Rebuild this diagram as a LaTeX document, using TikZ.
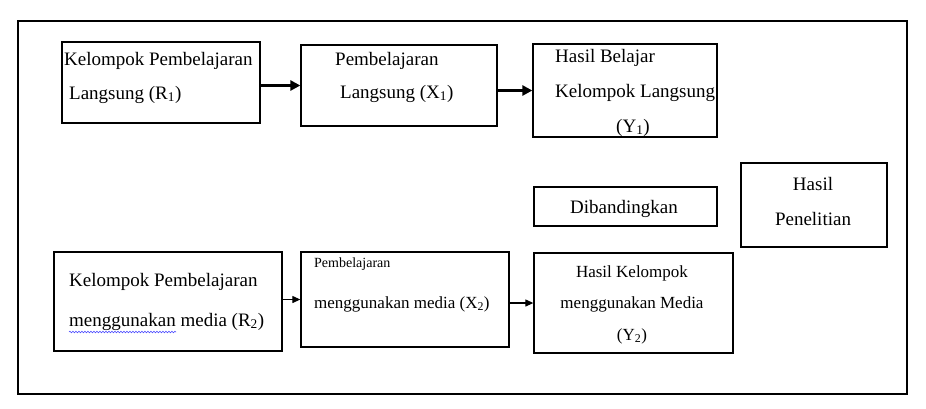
\documentclass[tikz,border=0pt]{standalone}
\usepackage{fontspec}
\setmainfont{Liberation Serif}
\usetikzlibrary{arrows.meta,decorations.pathmorphing}

\begin{document}
\begin{tikzpicture}[x=1pt, y=-1pt,
        box/.style={draw, line width=1.3pt, inner sep=0pt},
        txt/.style={inner sep=0pt, anchor=base west, font=\fontsize{19}{22}\selectfont},
        ctxt/.style={txt, anchor=base},
        bigarrow/.style={line width=3pt, -{Triangle[length=10pt,width=10pt]}},
        smallarrow/.style={line width=1.2pt, -{Triangle[length=8pt,width=7pt]}}]
        \useasboundingbox (0,0) rectangle (926,408);

        % Frame
        \draw[line width=2pt] (18,21) rectangle (907,394);

        % Top row
        \node[box, minimum width=198pt, minimum height=81pt] (r1) at (161,82.5) {};
        \node[box, minimum width=196pt, minimum height=81pt] (x1) at (399,85.5) {};
        \node[box, minimum width=184pt, minimum height=93pt] (y1) at (625,90.5) {};
        \node[txt] (r1a) at (64,65) {Kelompok Pembelajaran};
        \node[txt] (r1b) at (69,99) {Langsung (R\textsubscript{1})};
        \node[txt] (x1a) at (335,65) {Pembelajaran};
        \node[txt] (x1b) at (340,98) {Langsung (X\textsubscript{1})};
        \node[txt] (y1a) at (555,62) {Hasil Belajar};
        \node[txt] (y1b) at (555,97) {Kelompok Langsung};
        \node[ctxt] (y1c) at (633,132) {(Y\textsubscript{1})};

        % Middle boxes
        \node[box, minimum width=183pt, minimum height=39pt] (banding) at (625.5,206.5) {};
        \node[ctxt] (bandinga) at (624,213) {Dibandingkan};
        \node[box, minimum width=146pt, minimum height=84pt] (hasil) at (814,205) {};
        \node[ctxt] (hasila) at (813,190) {Hasil};
        \node[ctxt] (hasilb) at (813,225) {Penelitian};

        % Bottom row
        \node[box, minimum width=228pt, minimum height=99pt] (r2) at (168,301.5) {};
        \node[box, minimum width=208pt, minimum height=95pt] (x2) at (405,299.5) {};
        \node[box, minimum width=199pt, minimum height=100pt] (y2) at (633.5,303) {};
        \node[txt] (r2a) at (69,286) {Kelompok Pembelajaran};
        \node[txt] (r2b) at (69,326) {menggunakan media (R\textsubscript{2})};
        \draw[blue!70, line width=0.6pt, decorate, decoration={snake, amplitude=0.8pt, segment length=3pt}] (69,332) -- (176,332);
        \node[txt, font=\fontsize{14}{16}\selectfont] (x2a) at (314,267) {Pembelajaran};
        \node[txt, font=\fontsize{17}{20}\selectfont] (x2b) at (314,308) {menggunakan media (X\textsubscript{2})};
        \node[ctxt, font=\fontsize{17}{20}\selectfont] (y2a) at (632,277) {Hasil Kelompok};
        \node[ctxt, font=\fontsize{17}{20}\selectfont] (y2b) at (632,308) {menggunakan Media};
        \node[ctxt, font=\fontsize{17}{20}\selectfont] (y2c) at (632,340) {(Y\textsubscript{2})};

        % Arrows
        \draw[bigarrow] (r1.east |- x1.west) -- (x1.west);
        \draw[bigarrow] (x1.east |- y1.west) -- (y1.west);
        \draw[smallarrow] (r2.east |- x2.west) -- (x2.west);
        \draw[smallarrow] (x2.east |- y2.west) -- (y2.west);
    \end{tikzpicture}
\end{document}
